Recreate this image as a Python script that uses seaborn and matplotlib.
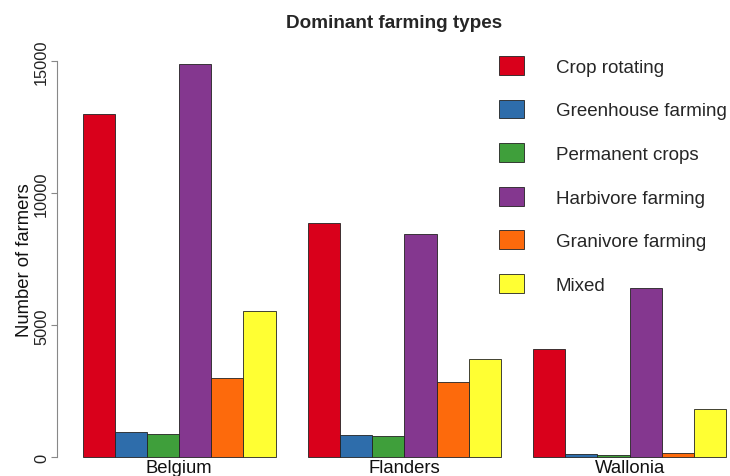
import matplotlib
matplotlib.use("Agg")
import matplotlib.pyplot as plt
import pandas as pd
import seaborn as sns

# values
regions = ["Belgium", "Flanders", "Wallonia"]
farm_types = ["Crop rotating", "Greenhouse farming", "Permanent crops",
              "Harbivore farming", "Granivore farming", "Mixed"]
belgium = [13010, 960, 895, 14880, 3015, 5525]
flanders = [8890, 853, 815, 8464, 2841, 3721]
wallonia = [4113, 113, 75, 6415, 174, 1811]
colors = ["#D9001B", "#2E6DAB", "#3F9F3B", "#84378F", "#FD6A0C", "#FFFF33"]

rows = []
for region, vals in zip(regions, [belgium, flanders, wallonia]):
    for ftype, v in zip(farm_types, vals):
        rows.append({"region": region, "type": ftype, "farmers": v})
df = pd.DataFrame(rows)

sns.set_theme(style="white")
plt.rcParams["font.family"] = ["Liberation Sans", "DejaVu Sans"]

fig = plt.figure(figsize=(7.3, 4.77), dpi=100)
ax = fig.add_axes([57.3 / 730, 0.0061, 1 - 57.3 / 730, 0.8965])

sns.barplot(data=df, x="region", y="farmers", hue="type", palette=colors,
            hue_order=farm_types, order=regions, width=6 / 7, saturation=1,
            edgecolor="#222222", linewidth=0.6, ax=ax)

ax.set_xlim(-0.541, 2.446)
ax.set_ylim(-600, 15600)
ax.set_yticks([0, 5000, 10000, 15000])
ax.set_yticklabels(["0", "5000", "10000", "15000"], rotation=90, va="center",
                   fontsize=11.8, color="#222222")
ax.tick_params(axis="y", length=4, width=0.8, color="#888888", pad=2, left=True)
# region names sit just under the zero line, as in the original
ax.tick_params(axis="x", length=0, pad=-10.5, labelsize=13.3, labelcolor="#111111")
ax.set_xlabel("")
ax.set_ylabel("Number of farmers", fontsize=13.3, color="#111111", labelpad=1)

for side in ["top", "right", "bottom"]:
    ax.spines[side].set_visible(False)
ax.spines["left"].set_bounds(0, 15000)
ax.spines["left"].set_color("#888888")
ax.spines["left"].set_linewidth(0.8)

ax.set_title("Dominant farming types", fontsize=13.6, fontweight="bold", pad=13)

sns.move_legend(ax, loc="upper left", bbox_to_anchor=(499 / 730, 1 - 57 / 477),
                bbox_transform=fig.transFigure, frameon=False, title=None,
                fontsize=13.5, handlelength=1.33, handleheight=1.17,
                handletextpad=1.7, labelspacing=1.27, borderpad=0,
                borderaxespad=0)

fig.savefig("out.png", dpi=100)
